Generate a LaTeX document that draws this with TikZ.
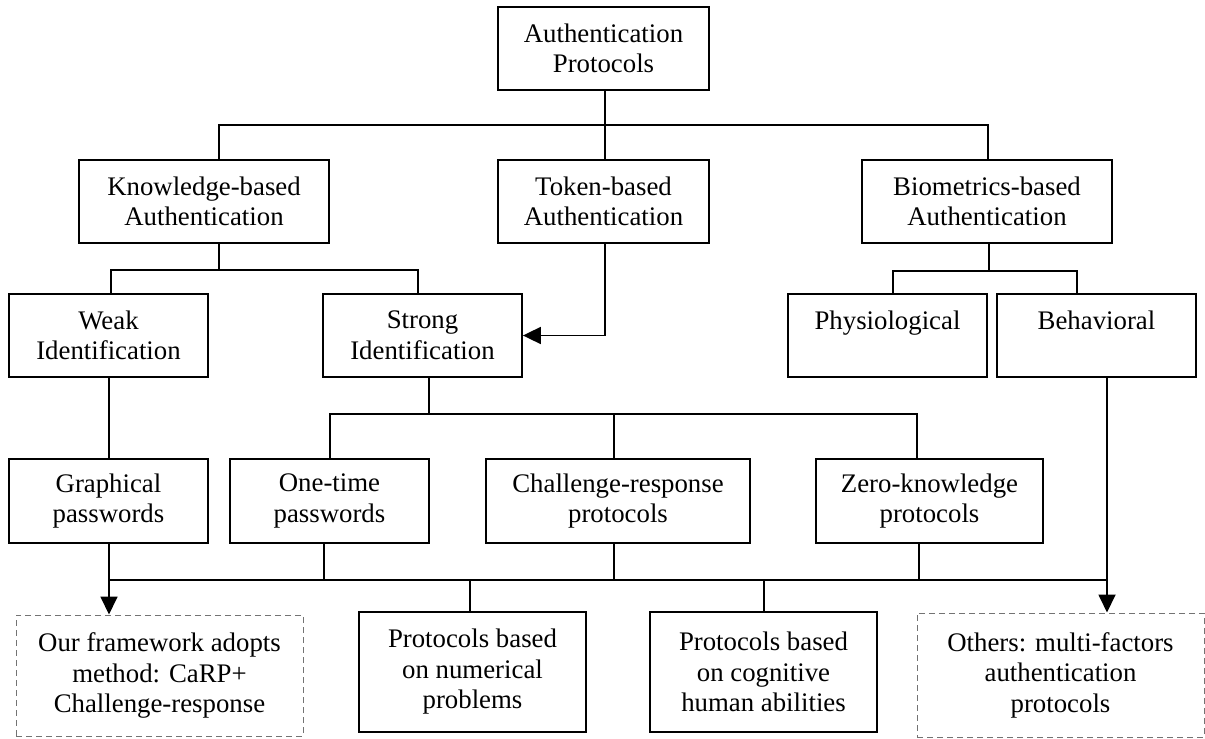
\documentclass[tikz,border=0pt]{standalone}
\usepackage{fontspec}
\setmainfont{Liberation Serif}
\usetikzlibrary{arrows.meta}
\begin{document}
\begin{tikzpicture}[x=1pt,y=-1pt,
  box/.style={draw, line width=1.8pt, align=center, inner sep=0pt,
    font=\fontsize{26.8}{30.5}\selectfont},
  dbox/.style={draw=black!55, line width=1pt, dash pattern=on 6pt off 4pt,
    align=center, inner sep=0pt, font=\fontsize{26.8}{30.5}\selectfont},
  sz/.style 2 args={minimum width=#1pt, minimum height=#2pt},
  conn/.style={line width=1.8pt},
  arr/.style={line width=1.8pt, -{Triangle[length=18pt,width=17pt]}}]
\useasboundingbox (0,0) rectangle (1205,739);
% level 0
\node[box, sz={211}{83}] (root) at (603.5,48.5) {Authentication\\Protocols};
% level 1
\node[box, sz={250}{83}] (kb) at (204,201.5) {Knowledge-based\\Authentication};
\node[box, sz={211}{83}] (tb) at (603.5,201.5) {Token-based\\Authentication};
\node[box, sz={250}{83}] (bb) at (987,201.5) {Biometrics-based\\Authentication};
% level 2
\node[box, sz={199}{83}] (weak) at (108.5,335.5) {Weak\\Identification};
\node[box, sz={199}{83}] (strong) at (422.5,335.5) {Strong\\Identification};
\node[box, sz={199}{83}] (phys) at (887.5,335.5) {Physiological\\\mbox{}};
\node[box, sz={199}{83}] (behav) at (1096.5,335.5) {Behavioral\\\mbox{}};
% level 3
\node[box, sz={199}{84}] (graph) at (108.5,501) {Graphical\\passwords};
\node[box, sz={199}{84}] (onet) at (329.5,501) {One-time\\passwords};
\node[box, sz={264}{84}] (chal) at (618,501) {Challenge-response\\protocols};
\node[box, sz={227}{84}] (zero) at (929.5,501) {Zero-knowledge\\protocols};
% level 4
\node[dbox, sz={287}{121}] (ours) at (159.5,675.5) {Our framework adopts\\method: CaRP+\\Challenge-response};
\node[box, sz={227}{120}] (num) at (472.5,672) {Protocols based\\on numerical\\problems};
\node[box, sz={227}{120}] (cog) at (763.5,672) {Protocols based\\on cognitive\\human abilities};
\node[dbox, sz={287}{124}] (others) at (1060.5,675) {Others: multi-factors\\authentication\\protocols};
% root bus
\coordinate (busA) at (605,125);
\draw[conn] (root.south -| busA) -- (tb.north -| busA);
\draw[conn] (kb.north -| 219,0) |- (busA) -| (bb.north -| 988,0);
% knowledge bus
\coordinate (busB) at (219,270);
\draw[conn] (kb.south -| busB) -- (busB);
\draw[conn] (weak.north -| 111,0) |- (busB) -| (strong.north -| 418,0);
% biometrics bus
\coordinate (busC) at (989,271);
\draw[conn] (bb.south -| busC) -- (busC);
\draw[conn] (phys.north -| 893,0) |- (busC) -| (behav.north -| 1077,0);
% token -> strong
\draw[arr] (tb.south -| 605,0) |- (strong.east);
% strong bus
\coordinate (busD) at (429,414);
\coordinate (cD) at (614,414);
\draw[conn] (strong.south -| busD) -- (busD);
\draw[conn] (onet.north -| 330,0) |- (busD) -| (zero.north -| 917,0);
\draw[conn] (chal.north -| cD) -- (cD);
% weak -> graphical
\draw[conn] (weak.south -| 109,0) -- (graph.north -| 109,0);
% bottom bus
\coordinate (gE) at (109,580);
\coordinate (bE) at (1107,580);
\coordinate (oE) at (324,580);
\coordinate (cE) at (614,580);
\coordinate (zE) at (919,580);
\coordinate (nE) at (470,580);
\coordinate (qE) at (764,580);
\draw[conn] (gE) -- (bE);
\draw[arr] (graph.south -| gE) -- (ours.north -| gE);
\draw[arr] (behav.south -| bE) -- (others.north -| bE);
\draw[conn] (onet.south -| oE) -- (oE);
\draw[conn] (chal.south -| cE) -- (cE);
\draw[conn] (zero.south -| zE) -- (zE);
\draw[conn] (nE) -- (num.north -| nE);
\draw[conn] (qE) -- (cog.north -| qE);
\end{tikzpicture}
\end{document}
